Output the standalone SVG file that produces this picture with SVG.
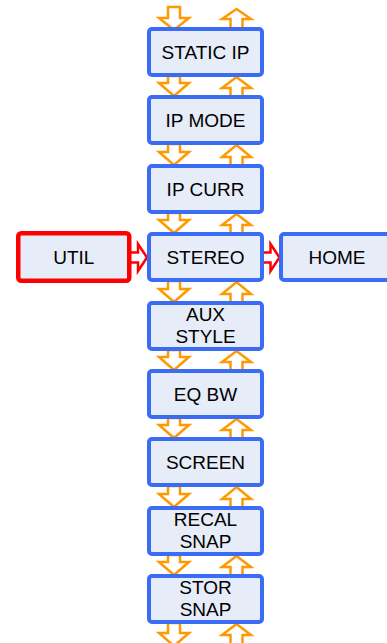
<svg xmlns="http://www.w3.org/2000/svg" width="387" height="643" viewBox="0 0 387 643">
<style>
.box{fill:#E6ECF8;stroke:#3B6CF5;stroke-width:4}
.rbox{fill:#E6ECF8;stroke:#FF0000;stroke-width:4.5}
.oa{fill:#FFFFFF;stroke:#FF9900;stroke-width:2.5;stroke-linejoin:miter}
.ra{fill:#FFFFFF;stroke:#FF0000;stroke-width:2.5;stroke-linejoin:miter}
text{font-family:"Liberation Sans",Arial,sans-serif;font-size:19px;fill:#000000;text-anchor:middle}
</style>
<rect width="387" height="643" fill="#FFFFFF"/>
<g id="connectors">
  <path class="oa" d="M168,7 H180 V18 H189 L174,30 L159,18 H168 Z"/>
  <path class="oa" d="M236.5,9 L251,19 H242.5 V29 H230.5 V19 H222 Z"/>
  <path class="oa" d="M168,76 H180 V83 H189 L174,96 L159,83 H168 Z"/>
  <path class="oa" d="M236.5,77 L251,88 H242.5 V97 H230.5 V88 H222 Z"/>
  <path class="oa" d="M168,144 H180 V152 H189 L174,165 L159,152 H168 Z"/>
  <path class="oa" d="M236.5,145 L251,157 H242.5 V166 H230.5 V157 H222 Z"/>
  <path class="oa" d="M168,213 H180 V220 H189 L174,233 L159,220 H168 Z"/>
  <path class="oa" d="M236.5,214 L251,225 H242.5 V234 H230.5 V225 H222 Z"/>
  <path class="oa" d="M168,281 H180 V289 H189 L174,302 L159,289 H168 Z"/>
  <path class="oa" d="M236.5,282 L251,294 H242.5 V303 H230.5 V294 H222 Z"/>
  <path class="oa" d="M168,350 H180 V357 H189 L174,370 L159,357 H168 Z"/>
  <path class="oa" d="M236.5,351 L251,362 H242.5 V371 H230.5 V362 H222 Z"/>
  <path class="oa" d="M168,418 H180 V425 H189 L174,438 L159,425 H168 Z"/>
  <path class="oa" d="M236.5,419 L251,430 H242.5 V439 H230.5 V430 H222 Z"/>
  <path class="oa" d="M168,486 H180 V494 H189 L174,507 L159,494 H168 Z"/>
  <path class="oa" d="M236.5,487 L251,499 H242.5 V508 H230.5 V499 H222 Z"/>
  <path class="oa" d="M168,555 H180 V562 H189 L174,575 L159,562 H168 Z"/>
  <path class="oa" d="M236.5,556 L251,567 H242.5 V576 H230.5 V567 H222 Z"/>
  <path class="oa" d="M168,623 H180 V633 H189 L174,646 L159,633 H168 Z"/>
  <path class="oa" d="M236.5,624 L251,635 H242.5 V648 H230.5 V635 H222 Z"/>
  <path class="ra" d="M128,252.5 H138 V244 L147,257.5 L138,271 V262.5 H128 Z"/>
  <path class="ra" d="M261,252.5 H270.5 V244 L279.5,257.5 L270.5,271 V262.5 H261 Z"/>
</g>
<g id="static-ip"><rect class="box" x="149" y="29" width="113" height="46" rx="3"/><text x="205.5" y="58.8">STATIC IP</text></g>
<g id="ip-mode"><rect class="box" x="149" y="97" width="113" height="46" rx="3"/><text x="205.5" y="126.8">IP MODE</text></g>
<g id="ip-curr"><rect class="box" x="149" y="166" width="113" height="46" rx="3"/><text x="205.5" y="195.8">IP CURR</text></g>
<g id="util"><rect class="rbox" x="18.25" y="233.25" width="111" height="47.5" rx="3"/><text x="73.75" y="263.8">UTIL</text></g>
<g id="stereo"><rect class="box" x="149" y="234" width="113" height="46" rx="3"/><text x="205.5" y="263.8">STEREO</text></g>
<g id="home"><rect class="box" x="281" y="234" width="113" height="46" rx="3"/><text x="337" y="263.8">HOME</text></g>
<g id="aux-style"><rect class="box" x="149" y="303" width="113" height="46" rx="3"/><text x="205.5" y="320.5">AUX</text><text x="205.5" y="342.5">STYLE</text></g>
<g id="eq-bw"><rect class="box" x="149" y="371" width="113" height="46" rx="3"/><text x="205.5" y="400.8">EQ BW</text></g>
<g id="screen"><rect class="box" x="149" y="439" width="113" height="46" rx="3"/><text x="205.5" y="468.8">SCREEN</text></g>
<g id="recal-snap"><rect class="box" x="149" y="508" width="113" height="46" rx="3"/><text x="205.5" y="525.5">RECAL</text><text x="205.5" y="547.5">SNAP</text></g>
<g id="stor-snap"><rect class="box" x="149" y="576" width="113" height="46" rx="3"/><text x="205.5" y="593.5">STOR</text><text x="205.5" y="615.5">SNAP</text></g>
</svg>
